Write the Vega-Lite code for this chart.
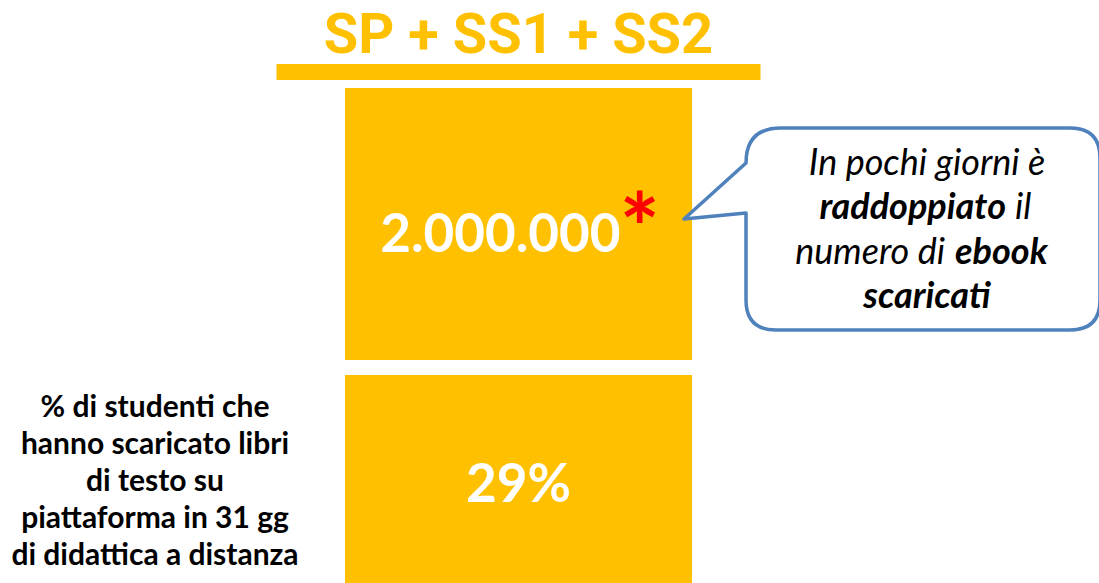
{
  "$schema": "https://vega.github.io/schema/vega-lite/v6.json",
  "width": 1099,
  "height": 583,
  "autosize": {"type": "none"},
  "padding": 0,
  "background": "white",
  "config": {"view": {"stroke": null}, "font": "Lato"},
  "datasets": {
    "titolo": [{"gruppo": "SP + SS1 + SS2"}],
    "kpi": [
      {"gruppo": "SP + SS1 + SS2", "metrica": "ebook scaricati", "valore": "2.000.000", "nota": "*"},
      {"gruppo": "SP + SS1 + SS2", "metrica": "% studenti", "valore": "29%", "nota": "", "descrizione": "% di studenti che\nhanno scaricato libri\ndi testo su\npiattaforma in 31 gg\ndi didattica a distanza"}
    ],
    "fumetto": [
      {"metrica": "ebook scaricati", "riga": 1, "parte": "intera", "enfasi": false, "testo": "In pochi giorni è"},
      {"metrica": "ebook scaricati", "riga": 2, "parte": "prima", "enfasi": true, "testo": "raddoppiato"},
      {"metrica": "ebook scaricati", "riga": 2, "parte": "seconda", "enfasi": false, "testo": "il"},
      {"metrica": "ebook scaricati", "riga": 3, "parte": "prima", "enfasi": false, "testo": "numero di"},
      {"metrica": "ebook scaricati", "riga": 3, "parte": "seconda", "enfasi": true, "testo": "ebook"},
      {"metrica": "ebook scaricati", "riga": 4, "parte": "intera", "enfasi": true, "testo": "scaricati"}
    ]
  },
  "resolve": {"scale": {"x": "independent", "y": "independent"}},
  "layer": [
    {
      "data": {"name": "kpi"},
      "mark": {"type": "rect", "color": "#FFC000", "clip": true},
      "encoding": {
        "x": {"field": "gruppo", "type": "nominal", "axis": null, "scale": {"type": "band", "domain": ["SP + SS1 + SS2"], "range": [345, 692], "paddingInner": 0, "paddingOuter": 0}},
        "y": {"field": "metrica", "type": "nominal", "axis": null, "scale": {"type": "band", "domain": ["ebook scaricati", "% studenti"], "range": [88, 647], "paddingInner": 0.05226, "paddingOuter": 0}}
      }
    },
    {
      "data": {"name": "titolo"},
      "mark": {"type": "text", "font": "Roboto", "fontSize": 56, "fontWeight": "bold", "color": "#FFC000", "baseline": "alphabetic", "align": "center", "dy": 17},
      "encoding": {
        "x": {"field": "gruppo", "type": "nominal", "axis": null, "scale": {"type": "band", "domain": ["SP + SS1 + SS2"], "range": [345, 692], "paddingInner": 0, "paddingOuter": 0}},
        "y": {"field": "gruppo", "type": "nominal", "axis": null, "scale": {"type": "band", "domain": ["SP + SS1 + SS2"], "range": [0, 72], "paddingInner": 0, "paddingOuter": 0}},
        "text": {"field": "gruppo"}
      }
    },
    {
      "data": {"name": "titolo"},
      "mark": {"type": "tick", "orient": "horizontal", "size": 484, "thickness": 16, "color": "#FFC000", "opacity": 1, "yOffset": 36},
      "encoding": {
        "x": {"field": "gruppo", "type": "nominal", "axis": null, "scale": {"type": "band", "domain": ["SP + SS1 + SS2"], "range": [345, 692], "paddingInner": 0, "paddingOuter": 0}},
        "y": {"field": "gruppo", "type": "nominal", "axis": null, "scale": {"type": "band", "domain": ["SP + SS1 + SS2"], "range": [0, 72], "paddingInner": 0, "paddingOuter": 0}}
      }
    },
    {
      "data": {"name": "kpi"},
      "transform": [{"filter": "datum.metrica === 'ebook scaricati'"}],
      "mark": {"type": "text", "font": "Lato", "fontSize": 53, "fontWeight": "bold", "color": "white", "baseline": "alphabetic", "align": "right", "dx": 102, "dy": 20},
      "encoding": {
        "x": {"field": "gruppo", "type": "nominal", "axis": null, "scale": {"type": "band", "domain": ["SP + SS1 + SS2"], "range": [345, 692], "paddingInner": 0, "paddingOuter": 0}},
        "y": {"field": "metrica", "type": "nominal", "axis": null, "scale": {"type": "band", "domain": ["ebook scaricati", "% studenti"], "range": [107, 607], "paddingInner": 0, "paddingOuter": 0}},
        "text": {"field": "valore"}
      }
    },
    {
      "data": {"name": "kpi"},
      "transform": [{"filter": "datum.metrica === 'ebook scaricati'"}],
      "mark": {"type": "text", "font": "Lato", "fontSize": 95, "fontWeight": "bold", "color": "#FF0000", "baseline": "alphabetic", "align": "left", "dx": 101, "dy": 31},
      "encoding": {
        "x": {"field": "gruppo", "type": "nominal", "axis": null, "scale": {"type": "band", "domain": ["SP + SS1 + SS2"], "range": [345, 692], "paddingInner": 0, "paddingOuter": 0}},
        "y": {"field": "metrica", "type": "nominal", "axis": null, "scale": {"type": "band", "domain": ["ebook scaricati", "% studenti"], "range": [107, 607], "paddingInner": 0, "paddingOuter": 0}},
        "text": {"field": "nota"}
      }
    },
    {
      "data": {"name": "kpi"},
      "transform": [{"filter": "datum.metrica === '% studenti'"}],
      "mark": {"type": "text", "font": "Lato", "fontSize": 53, "fontWeight": "bold", "color": "white", "baseline": "alphabetic", "align": "center", "dy": 20},
      "encoding": {
        "x": {"field": "gruppo", "type": "nominal", "axis": null, "scale": {"type": "band", "domain": ["SP + SS1 + SS2"], "range": [345, 692], "paddingInner": 0, "paddingOuter": 0}},
        "y": {"field": "metrica", "type": "nominal", "axis": null, "scale": {"type": "band", "domain": ["ebook scaricati", "% studenti"], "range": [107, 607], "paddingInner": 0, "paddingOuter": 0}},
        "text": {"field": "valore"}
      }
    },
    {
      "data": {"name": "kpi"},
      "transform": [{"filter": "datum.metrica === '% studenti'"}],
      "mark": {"type": "text", "font": "Lato", "fontSize": 30, "fontWeight": "bold", "color": "black", "baseline": "alphabetic", "align": "center", "lineBreak": "\n", "lineHeight": 37, "dy": -65},
      "encoding": {
        "x": {"field": "metrica", "type": "nominal", "axis": null, "scale": {"type": "band", "domain": ["% studenti"], "range": [55, 255], "paddingInner": 0, "paddingOuter": 0}},
        "y": {"field": "metrica", "type": "nominal", "axis": null, "scale": {"type": "band", "domain": ["ebook scaricati", "% studenti"], "range": [107, 607], "paddingInner": 0, "paddingOuter": 0}},
        "text": {"field": "descrizione"}
      }
    },
    {
      "data": {"name": "kpi"},
      "transform": [{"filter": "datum.metrica === 'ebook scaricati'"}],
      "mark": {"type": "point", "shape": "M -1.81 -0.69 Q -1.81 -1.04 -1.46 -1.04 L 1.43 -1.04 Q 1.73 -1.04 1.73 -0.74 L 1.73 0.68 Q 1.73 0.98 1.43 0.98 L -1.51 0.98 Q -1.81 0.98 -1.81 0.68 L -1.81 -0.19 L -2.43 -0.13 Z", "size": 40000, "filled": true, "fill": "white", "stroke": "#4F81BD", "strokeWidth": 3.5, "opacity": 1, "strokeJoin": "round"},
      "encoding": {
        "x": {"field": "metrica", "type": "nominal", "axis": null, "scale": {"type": "band", "domain": ["ebook scaricati"], "range": [827, 1027], "paddingInner": 0, "paddingOuter": 0}},
        "y": {"field": "metrica", "type": "nominal", "axis": null, "scale": {"type": "band", "domain": ["ebook scaricati", "% studenti"], "range": [107, 607], "paddingInner": 0, "paddingOuter": 0}}
      }
    },
    {
      "data": {"name": "fumetto"},
      "transform": [{"filter": "datum.parte === 'intera' && !datum.enfasi"}],
      "mark": {"type": "text", "font": "Lato", "fontSize": 36, "fontStyle": "italic", "fontWeight": "normal", "color": "black", "baseline": "alphabetic", "align": "center"},
      "encoding": {
        "x": {"field": "metrica", "type": "nominal", "axis": null, "scale": {"type": "band", "domain": ["ebook scaricati"], "range": [827, 1027], "paddingInner": 0, "paddingOuter": 0}},
        "y": {"field": "riga", "type": "ordinal", "axis": null, "scale": {"type": "point", "domain": [1, 2, 3, 4], "range": [175, 308], "padding": 0}},
        "text": {"field": "testo"}
      }
    },
    {
      "data": {"name": "fumetto"},
      "transform": [{"filter": "datum.parte === 'intera' && datum.enfasi"}],
      "mark": {"type": "text", "font": "Lato", "fontSize": 36, "fontStyle": "italic", "fontWeight": "bold", "color": "black", "baseline": "alphabetic", "align": "center"},
      "encoding": {
        "x": {"field": "metrica", "type": "nominal", "axis": null, "scale": {"type": "band", "domain": ["ebook scaricati"], "range": [827, 1027], "paddingInner": 0, "paddingOuter": 0}},
        "y": {"field": "riga", "type": "ordinal", "axis": null, "scale": {"type": "point", "domain": [1, 2, 3, 4], "range": [175, 308], "padding": 0}},
        "text": {"field": "testo"}
      }
    },
    {
      "data": {"name": "fumetto"},
      "transform": [{"filter": "datum.parte === 'prima' && datum.enfasi"}],
      "mark": {"type": "text", "font": "Lato", "fontSize": 36, "fontStyle": "italic", "fontWeight": "bold", "color": "black", "baseline": "alphabetic", "align": "right", "dx": 79},
      "encoding": {
        "x": {"field": "metrica", "type": "nominal", "axis": null, "scale": {"type": "band", "domain": ["ebook scaricati"], "range": [827, 1027], "paddingInner": 0, "paddingOuter": 0}},
        "y": {"field": "riga", "type": "ordinal", "axis": null, "scale": {"type": "point", "domain": [1, 2, 3, 4], "range": [175, 308], "padding": 0}},
        "text": {"field": "testo"}
      }
    },
    {
      "data": {"name": "fumetto"},
      "transform": [{"filter": "datum.parte === 'seconda' && !datum.enfasi"}],
      "mark": {"type": "text", "font": "Lato", "fontSize": 36, "fontStyle": "italic", "fontWeight": "normal", "color": "black", "baseline": "alphabetic", "align": "left", "dx": 88},
      "encoding": {
        "x": {"field": "metrica", "type": "nominal", "axis": null, "scale": {"type": "band", "domain": ["ebook scaricati"], "range": [827, 1027], "paddingInner": 0, "paddingOuter": 0}},
        "y": {"field": "riga", "type": "ordinal", "axis": null, "scale": {"type": "point", "domain": [1, 2, 3, 4], "range": [175, 308], "padding": 0}},
        "text": {"field": "testo"}
      }
    },
    {
      "data": {"name": "fumetto"},
      "transform": [{"filter": "datum.parte === 'prima' && !datum.enfasi"}],
      "mark": {"type": "text", "font": "Lato", "fontSize": 36, "fontStyle": "italic", "fontWeight": "normal", "color": "black", "baseline": "alphabetic", "align": "right", "dx": 18},
      "encoding": {
        "x": {"field": "metrica", "type": "nominal", "axis": null, "scale": {"type": "band", "domain": ["ebook scaricati"], "range": [827, 1027], "paddingInner": 0, "paddingOuter": 0}},
        "y": {"field": "riga", "type": "ordinal", "axis": null, "scale": {"type": "point", "domain": [1, 2, 3, 4], "range": [175, 308], "padding": 0}},
        "text": {"field": "testo"}
      }
    },
    {
      "data": {"name": "fumetto"},
      "transform": [{"filter": "datum.parte === 'seconda' && datum.enfasi"}],
      "mark": {"type": "text", "font": "Lato", "fontSize": 36, "fontStyle": "italic", "fontWeight": "bold", "color": "black", "baseline": "alphabetic", "align": "left", "dx": 28},
      "encoding": {
        "x": {"field": "metrica", "type": "nominal", "axis": null, "scale": {"type": "band", "domain": ["ebook scaricati"], "range": [827, 1027], "paddingInner": 0, "paddingOuter": 0}},
        "y": {"field": "riga", "type": "ordinal", "axis": null, "scale": {"type": "point", "domain": [1, 2, 3, 4], "range": [175, 308], "padding": 0}},
        "text": {"field": "testo"}
      }
    }
  ]
}
